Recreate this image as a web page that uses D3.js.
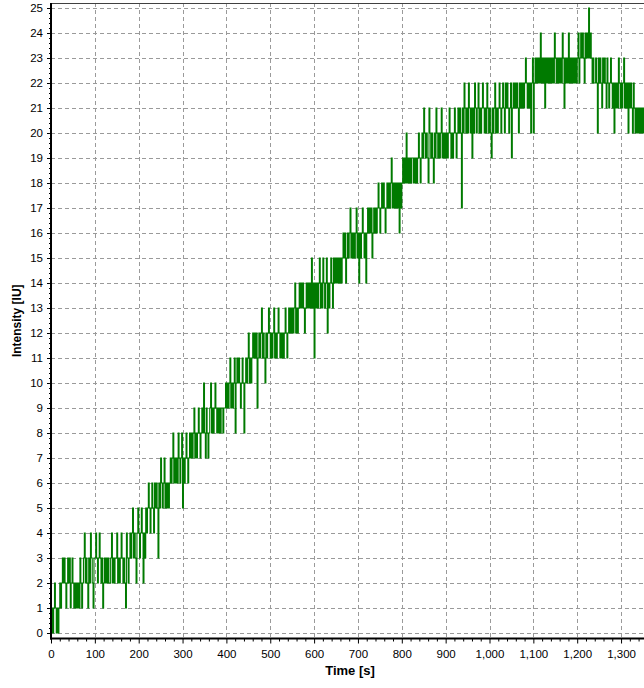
<!DOCTYPE html>
<html>
<head>
<meta charset="utf-8">
<script src="https://cdn.jsdelivr.net/npm/d3@7"></script>
<style>
  html, body { margin: 0; padding: 0; background: #ffffff; }
  svg { display: block; }
  text { font-family: "Liberation Sans", Arial, sans-serif; }
</style>
</head>
<body>
<svg id="chart" width="644" height="688"></svg>
<script>
// Detector intensity sampled every 2 s. Each character is one sample in base 36
// (0-9, a=10 ... p=25); one row per 100 s, spaces only group the samples for reading.
const sampleStepSeconds = 2;
const intensityRows = [
  "01012 10101 21232 32123 23123 21212 12132 12342 32132 43213", //    0 -   98 s
  "34323 43231 23232 32234 23233 42323 43232 14323 43453 43245", //  100 -  198 s
  "43454 24354 56545 65465 65365 76567 56565 67678 67676 87678", //  200 -  298 s
  "57678 76787 87897 87898 7898a 87987 89a89 89a98 98989 9899a", //  300 -  398 s
  "9a9ab 9a9ab 8abab a9aba 8abab cabab cbcbc 9bcbc dbcba cbcdc", //  400 -  498 s
  "bcbcd bcbcd cbcbc bcdcb cdcdc dcdec dcded ededc deded edfde", //  500 -  598 s
  "beded efded fedef cedef edfef efefe fefgf gefgf ghfgf gfghf", //  600 -  698 s
  "gegfg hgfge ghghg hfghg hghih ghihi hghih ihijh ihihi higih", //  700 -  798 s
  "ijiji kijij ijjij ijijk jijkj lkjkj ilkjk jikjl kjkjk ljkjk", //  800 -  898 s
  "jkjkl kjkjk lkjkl klkhl kmlkl kmlkl jlkml klmkl klmlk lkmlk", //  900 -  998 s
  "lkjlk lmklk lmlkl mlkml mlklm jlmlm lmlkm lmlml mnmlm lmkmn", // 1000 - 1098 s
  "kmnmn mnmom nmnln mnmnm nmnmo nmnmn mnmon lnmnm omnmn mnmnm", // 1100 - 1198 s
  "nomno nonmo nonpn onmnm mnmkn mnmln mnmln mlmnm lmkml mlnml", // 1200 - 1298 s
  "mlmnl mlmkm lmlkm lklkl klklk lkjkl k"                        // 1300 - 1360 s
];

const xTickValues = [0, 100, 200, 300, 400, 500, 600, 700, 800, 900, 1000, 1100, 1200, 1300];
const yTickValues = d3.range(0, 26);
const xAxisTitle = "Time [s]";
const yAxisTitle = "Intensity [IU]";

// Decode the rows into {t, v} samples.
const samples = intensityRows.join("").replace(/\s+/g, "").split("")
  .map((c, i) => ({ t: i * sampleStepSeconds, v: parseInt(c, 36) }));

const svg = d3.select("#chart");

const plotLeft = 51, plotTop = 3, plotBottom = 638.5;
const x = d3.scaleLinear().domain([0, 1400]).range([plotLeft, plotLeft + 14 * 43.85]);
const y = d3.scaleLinear().domain([0, 25]).range([633, 8]);
const plotRight = x(1400);

// Dashed grid
const grid = svg.append("g").attr("stroke", "#9a9a9a").attr("stroke-width", 1)
  .attr("stroke-dasharray", "4,3").attr("shape-rendering", "crispEdges");
grid.selectAll("line.h").data(yTickValues).join("line").attr("class", "h")
  .attr("x1", plotLeft).attr("x2", plotRight)
  .attr("y1", d => Math.round(y(d)) + 0.5).attr("y2", d => Math.round(y(d)) + 0.5);
grid.selectAll("line.v").data(xTickValues.filter(d => d > 0)).join("line").attr("class", "v")
  .attr("y1", plotTop).attr("y2", plotBottom)
  .attr("x1", d => Math.round(x(d)) + 0.5).attr("x2", d => Math.round(x(d)) + 0.5);

// Top frame line
svg.append("line").attr("x1", plotLeft).attr("x2", plotRight)
  .attr("y1", plotTop + 0.5).attr("y2", plotTop + 0.5)
  .attr("stroke", "#404040").attr("stroke-width", 1);

// Intensity trace: each sample is held until the next one
const line = d3.line().x(d => x(d.t)).y(d => y(d.v)).curve(d3.curveStepAfter);
svg.append("path").datum(samples)
  .attr("d", line)
  .attr("fill", "none")
  .attr("stroke", "#007a00")
  .attr("stroke-width", 1.1);

// Y axis (left) with minor ticks
const yAxisG = svg.append("g").attr("transform", `translate(${plotLeft},0)`);
yAxisG.call(d3.axisLeft(y).tickValues(yTickValues).tickSize(4).tickPadding(4).tickFormat(d3.format("d")));
const yMinor = svg.append("g").attr("transform", `translate(${plotLeft},0)`);
yMinor.call(d3.axisLeft(y).tickValues(d3.range(0, 125).map(i => i / 5).filter(v => v % 1 !== 0))
  .tickSize(2).tickFormat(""));
yMinor.select(".domain").remove();

// X axis (bottom) with minor ticks
const xAxisG = svg.append("g").attr("transform", `translate(0,${plotBottom})`);
xAxisG.call(d3.axisBottom(x).tickValues(xTickValues).tickSize(5).tickPadding(6).tickFormat(d3.format(",")));
const xMinor = svg.append("g").attr("transform", `translate(0,${plotBottom})`);
xMinor.call(d3.axisBottom(x).tickValues(d3.range(0, 1400, 20).filter(v => v % 100 !== 0))
  .tickSize(3).tickFormat(""));
xMinor.select(".domain").remove();

// Axis styling
svg.selectAll(".domain").attr("stroke", "#000").attr("stroke-width", 2);
svg.selectAll(".tick line").attr("stroke", "#000").attr("stroke-width", 1);
svg.selectAll(".tick text").attr("font-size", 11.5).attr("fill", "#000")
  .attr("font-family", "'Liberation Sans', Arial, sans-serif");

// Axis lines meet at the corner and run up to the frame top
yAxisG.select(".domain").attr("d", `M0,${plotTop}V${plotBottom + 1}`);
xAxisG.select(".domain").attr("d", `M${plotLeft - 1},0H${plotRight}`);

// Axis titles
svg.append("text")
  .attr("x", 350).attr("y", 675)
  .attr("text-anchor", "middle")
  .attr("font-size", 13).attr("font-weight", "bold")
  .text(xAxisTitle);
svg.append("text")
  .attr("transform", `translate(21,${(plotTop + plotBottom) / 2}) rotate(-90)`)
  .attr("text-anchor", "middle")
  .attr("font-size", 12).attr("font-weight", "bold")
  .text(yAxisTitle);
</script>
</body>
</html>
